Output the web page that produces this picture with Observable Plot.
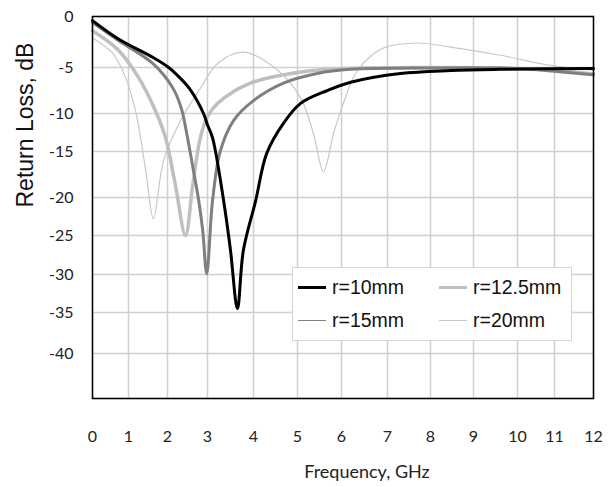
<!DOCTYPE html>
<html>
<head>
<meta charset="utf-8">
<script src="https://cdn.jsdelivr.net/npm/d3@7"></script>
<script src="https://cdn.jsdelivr.net/npm/@observablehq/plot@0.6"></script>
<style>
  body { margin: 0; background: #fff; }
  #wrap { position: relative; width: 608px; height: 487px; background: #fff; }
  #legend {
    position: absolute; left: 292px; top: 267px; width: 278px; height: 69px;
    border: 1px solid #d4d4d4; background: #fff;
    display: grid; grid-template-columns: 141px 137px; grid-auto-rows: 33px;
    padding-top: 3px; box-sizing: content-box;
    font-family: "Liberation Sans", Arial, sans-serif; font-size: 19.5px; color: #111;
  }
  .item { display: flex; align-items: center; padding-left: 5px; }
  .swatch { width: 28px; margin-right: 6px; }
</style>
</head>
<body>
<div id="wrap"><div id="legend"></div></div>
<script>
// ---- data (frequency in GHz, return loss in dB) ----
const freqTicks = [0, 1, 2, 3, 4, 5, 6, 7, 8, 9, 10, 11, 12];
const dbTicks = [0, -5, -10, -15, -20, -25, -30, -35, -40];
const dbGrid = [0, -5, -10, -15, -20, -25, -30, -35, -40, -45];
const seriesNames = ["r=10mm", "r=12.5mm", "r=15mm", "r=20mm"];

const r10 = [[0,-0.4],[0.72,-2.2],[1.62,-4.0],[2.03,-5.0],[2.2,-5.65],[2.55,-7.3],[2.9,-10.0],[3.0,-11.5],[3.11,-13.2],[3.35,-20.4],[3.5,-26.9],[3.65,-34.5],[3.78,-26.9],[4.05,-20.4],[4.3,-15.2],[4.68,-11.3],[5.07,-8.9],[5.68,-7.5],[6.2,-6.6],[7.3,-5.65],[8.47,-5.33],[9.61,-5.2],[12,-5.1]];
const r12_5 = [[0,-1.4],[0.72,-3.3],[1.26,-6.1],[1.69,-9.7],[1.95,-13.2],[2.2,-18.7],[2.45,-25],[2.63,-18.7],[2.82,-13.2],[3.0,-10.4],[3.22,-8.9],[3.93,-6.7],[5.07,-5.5],[6.2,-5.1],[8,-5.0],[10,-5.1],[11,-5.3],[12,-5.7]];
const r15 = [[0,-0.6],[0.72,-2.35],[1.62,-4.6],[2.13,-7.2],[2.35,-9.5],[2.5,-13.2],[2.65,-17.1],[2.78,-20.4],[2.88,-24.3],[2.98,-29.9],[3.11,-20.4],[3.28,-14.9],[3.57,-10.9],[4.0,-8.6],[4.68,-6.7],[5.45,-5.65],[6.2,-5.2],[8,-5.05],[10,-5.1],[11,-5.4],[12,-5.8]];
const r20 = [[0,-2.1],[0.56,-3.6],[0.92,-6.1],[1.18,-9.7],[1.31,-13.2],[1.46,-17.6],[1.64,-22.8],[1.9,-16.0],[2.33,-10.9],[2.83,-7.2],[3.22,-4.6],[3.78,-3.5],[4.55,-5.3],[5.07,-8.3],[5.36,-12.6],[5.59,-17.2],[5.82,-12.6],[6.02,-9.2],[6.35,-5.3],[6.91,-3.1],[7.7,-2.6],[8.47,-3.0],[9.61,-3.8],[10.9,-4.8],[12,-5.3]];

// ---- axis layout: the reference gridlines are not evenly spaced, so a piecewise
//      mapping places each gridline where it is; Plot's linear scales do the rest ----
const xGridPx = [92, 128, 167, 207, 253, 297, 341, 387, 430, 473, 517, 554, 593];
const yGridPx = [16, 67, 113, 151, 197, 235, 274, 312, 353, 398];
const xPos = d3.scaleLinear().domain(freqTicks).range(xGridPx);
const yPos = d3.scaleLinear().domain(dbGrid).range(yGridPx);

const styles = {
  "r=10mm":   {stroke: "#000000", plotWidth: 3,   legendWidth: 3},
  "r=12.5mm": {stroke: "#bfbfbf", plotWidth: 3.5, legendWidth: 3},
  "r=15mm":   {stroke: "#7f7f7f", plotWidth: 3,   legendWidth: 1.5},
  "r=20mm":   {stroke: "#c8c8c8", plotWidth: 1.2, legendWidth: 1.2}
};
const seriesData = {"r=10mm": r10, "r=12.5mm": r12_5, "r=15mm": r15, "r=20mm": r20};
const drawOrder = ["r=20mm", "r=12.5mm", "r=15mm", "r=10mm"];

const lineMarks = drawOrder.map(name => Plot.line(seriesData[name], {
  x: d => xPos(d[0]), y: d => yPos(d[1]), curve: "catmull-rom",
  stroke: styles[name].stroke, strokeWidth: styles[name].plotWidth, strokeLinejoin: "miter"
}));

const chart = Plot.plot({
  width: 608, height: 487,
  marginTop: 16, marginLeft: 92, marginRight: 15, marginBottom: 89,
  style: {fontFamily: "Lato, 'Liberation Sans', sans-serif", fontSize: "16px", color: "#222", background: "#fff"},
  x: {domain: [xGridPx[0], xGridPx[xGridPx.length - 1]], range: [92, 593],
      ticks: freqTicks.map(xPos), tickFormat: p => String(Math.round(xPos.invert(p))),
      tickSize: 0, tickPadding: 32, label: null},
  y: {domain: [yGridPx[0], yGridPx[yGridPx.length - 1]], range: [16, 398],
      ticks: dbTicks.map(yPos), tickFormat: p => String(Math.round(yPos.invert(p))),
      tickSize: 0, tickPadding: 19, label: null},
  marks: [
    Plot.gridX(freqTicks.map(xPos), {stroke: "#d0d0d0", strokeOpacity: 1, strokeWidth: 1.5}),
    Plot.gridY(dbGrid.map(yPos), {stroke: "#d0d0d0", strokeOpacity: 1, strokeWidth: 1.5}),
    ...lineMarks,
    Plot.frame({stroke: "#000", strokeWidth: 1.5}),
    Plot.text(["Return Loss, dB"], {frameAnchor: "left", dx: -67, rotate: -90, text: d => d,
      fontSize: 23, fontFamily: "'Liberation Sans', Arial, sans-serif", fill: "#111"}),
    Plot.text(["Frequency, GHz"], {frameAnchor: "bottom", dx: 24, dy: 79, text: d => d,
      fontSize: 18, fontFamily: "Lato, sans-serif", fill: "#222"})
  ]
});
document.getElementById("wrap").prepend(chart);

// ---- legend ----
const legend = document.getElementById("legend");
for (const name of seriesNames) {
  const item = document.createElement("div");
  item.className = "item";
  const sw = document.createElement("div");
  sw.className = "swatch";
  sw.style.borderTop = `${styles[name].legendWidth}px solid ${styles[name].stroke}`;
  const label = document.createElement("span");
  label.textContent = name;
  item.append(sw, label);
  legend.append(item);
}
</script>
</body>
</html>
